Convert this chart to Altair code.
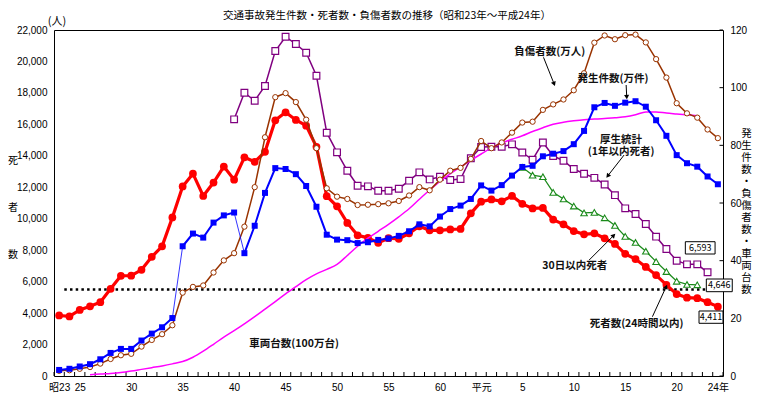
import math
import altair as alt
import pandas as pd

# ---------------- data ----------------
years = list(range(1948, 2013))
deaths_24h = [3848, 3790, 4202, 4429, 4696, 5544, 6374, 6379, 6751, 7575, 8248, 10079,
              12055, 12865, 11445, 12301, 13318, 12484, 13904, 13618, 14256, 16257,
              16765, 16278, 15918, 14574, 11432, 10792, 9734, 8945, 8783, 8466,
              8760, 8719, 9073, 9520, 9262, 9261, 9317, 9347, 10344, 11086,
              11227, 11109, 11452, 10945, 10653, 10684, 9943, 9642, 9214, 9012,
              9073, 8757, 8396, 7768, 7436, 6937, 6415, 5796, 5209, 4979,
              4948, 4691, 4411]
accidents_10k = [2.1, 2.5, 3.3, 4.1, 5.8, 8.0, 9.4, 9.4, 12.3, 14.7, 16.9, 20.1,
                 45.0, 49.4, 48.0, 53.2, 55.7, 56.7, 42.6, 52.1, 63.5, 72.1,
                 71.8, 70.0, 65.9, 58.7, 49.0, 47.3, 47.1, 46.1, 46.4, 47.2,
                 47.7, 48.6, 50.2, 52.6, 51.9, 55.3, 57.9, 59.1, 61.4, 66.1,
                 64.3, 66.2, 69.5, 72.5, 72.9, 76.2, 77.1, 78.0, 80.4, 85.0,
                 93.2, 94.7, 93.7, 94.8, 95.3, 93.4, 88.7, 83.3, 76.6, 73.8,
                 72.6, 69.2, 66.5]
injured_10k = [1.8, 2.0, 2.5, 3.1, 4.3, 5.9, 7.2, 7.7, 10.2, 12.5, 14.5, 17.6,
               28.9, 30.9, 31.4, 35.9, 40.1, 42.6, 51.8, 65.5, 82.8, 96.7,
               98.1, 95.0, 88.9, 79.0, 65.1, 62.2, 61.4, 59.3, 59.4, 59.6,
               59.9, 60.7, 62.6, 65.5, 64.4, 68.1, 71.2, 72.2, 75.3, 81.5,
               79.0, 81.0, 84.4, 87.9, 88.2, 92.3, 94.2, 95.9, 99.1, 105.0,
               115.6, 118.1, 116.8, 118.2, 118.4, 115.7, 109.9, 103.5, 94.6, 91.1,
               89.6, 85.5, 82.5]
kosei_years = list(range(1965, 2012))
deaths_1yr = [16320, 18010, 17500, 18440, 20660,
              21570, 21110, 20550, 19090, 15470, 14220, 13050, 12100, 12060, 11780,
              11780, 11910, 12420, 12950, 12500, 12670, 12460, 12520, 13850, 14560,
              14580, 14580, 14730, 14210, 13750, 14850, 13990, 13690, 13160, 12860,
              12600, 12180, 11500, 10660, 10300, 9660, 8860, 8080, 7330, 7100,
              7100, 6593]
d30_years = list(range(1993, 2011))
deaths_30d = [13269, 12768, 12670, 11674, 11254, 10805, 10372, 10403, 10060, 9575,
              8877, 8492, 7931, 7272, 6639, 6023, 5820, 5800]
vehicle_years = list(range(1951, 2011))
vehicles_1m = [0.4, 0.7, 0.9, 1.2, 1.7, 2.3, 2.9, 3.5, 4.2,
               5.0, 6.5, 8.6, 11.0, 13.5, 15.7, 18.1, 20.6, 23.2, 25.8,
               28.5, 31.0, 33.4, 35.4, 37.0, 38.7, 41.8, 45.0, 47.8, 50.2,
               52.6, 55.2, 58.0, 61.3, 64.5, 67.5, 70.1, 72.5, 74.8, 77.0,
               79.1, 80.8, 82.1, 83.3, 84.8, 86.1, 87.3, 88.0, 88.5, 88.9,
               89.1, 89.3, 89.6, 89.9, 90.6, 91.6, 91.6, 91.2, 90.9, 90.6,
               90.3]

xtick_years = [1948, 1950, 1955, 1960, 1965, 1970, 1975, 1980, 1985, 1989, 1993, 1998, 2003, 2008, 2012]
xtick_labels = ["昭23", "25", "30", "35", "40", "45", "50", "55", "60", "平元", "5", "10", "15", "20", "24年"]
left_ticks = list(range(0, 22001, 2000))
right_ticks = list(range(0, 121, 20))
guide_level = 5500

title_text = "交通事故発生件数・死者数・負傷者数の推移（昭和23年～平成24年）"
notes = [
    ("負傷者数(万人)", 1995.66, 20620),
    ("発生件数(万件)", 2001.82, 18865),
    ("30日以内死者", 1998.09, 6994),
    ("死者数(24時間以内)", 2004.1, 3306),
    ("車両台数(100万台)", 1970.83, 2015),
]
kosei_note = (["厚生統計", "(1年以内死者)"], 2002.6, 14990)
arrows = [
    (1995.06, 20263, 1996.2, 18394),
    (2003.09, 18502, 2003.16, 17548),
    (2002.89, 14051, 2001.12, 12570),
    (1999.5, 7375, 2002.09, 9073),
    (2005.64, 3770, 2007.1, 5849),
]
boxes = [
    ("6,593", 2008.84, 2011.73, 7757, 8539),
    ("4,646", 2010.88, 2013.4, 5360, 6167),
    ("4,411", 2010.17, 2012.5, 3351, 4133),
]

# ---------------- layout ----------------
W, H = 669, 346
X0, X1 = 1947.5, 2012.5
PX_YEAR = W / (X1 - X0)
PX_LEFT = H / 22000
FONT = "Noto Sans CJK JP"
NUMFONT = "Liberation Sans, Noto Sans CJK JP"

label_expr = ""
for yv, lab in zip(xtick_years, xtick_labels):
    label_expr += f"datum.value == {yv} ? '{lab}' : "
label_expr += "''"

xscale = alt.Scale(domain=[X0, X1], nice=False, zero=False)
xaxis = alt.Axis(values=xtick_years, labelExpr=label_expr, title=None, labelPadding=6,
                 labelOverlap=False, labelFlush=False)
lscale = alt.Scale(domain=[0, 22000], nice=False, zero=True)
laxis = alt.Axis(orient="left", values=left_ticks, format=",.0f", title=None, labelPadding=7)
rscale = alt.Scale(domain=[0, 120], nice=False, zero=True)
raxis = alt.Axis(orient="right", values=right_ticks, format=".0f", title=None, labelPadding=7)


def X(f):
    return alt.X(f, type="quantitative", scale=xscale, axis=xaxis)


def YL(f, axis=True):
    return alt.Y(f, type="quantitative", scale=lscale, axis=laxis if axis else None)


def YR(f):
    return alt.Y(f, type="quantitative", scale=rscale, axis=raxis)


# ---------------- left-axis series ----------------
df_red = pd.DataFrame({"year": years, "v": deaths_24h})
df_pur = pd.DataFrame({"year": kosei_years, "v": deaths_1yr})
df_grn = pd.DataFrame({"year": d30_years, "v": deaths_30d})
df_xt = pd.DataFrame({"x": [X0 + i for i in range(66)], "y": 0, "y2": 4 / PX_LEFT})
df_dot = pd.DataFrame({"x": [1948.5], "x2": [2011.6], "y": [guide_level]})

xticks = alt.Chart(df_xt).mark_rule(color="black", strokeWidth=1).encode(
    x=X("x"), y=YL("y"), y2="y2")
dotted = alt.Chart(df_dot).mark_rule(color="black", strokeWidth=2.5, strokeDash=[2.5, 3.2]).encode(
    x=X("x"), x2="x2", y=YL("y"))
pur_line = alt.Chart(df_pur).mark_line(color="#800080", strokeWidth=1.5).encode(x=X("year"), y=YL("v"))
pur_pts = alt.Chart(df_pur).mark_point(shape="square", size=45, filled=True, fill="white",
                                       stroke="#800080", strokeWidth=1.2, opacity=1).encode(x=X("year"), y=YL("v"))
grn_line = alt.Chart(df_grn).mark_line(color="#1a8a1a", strokeWidth=1.3).encode(x=X("year"), y=YL("v"))
grn_pts = alt.Chart(df_grn).mark_point(shape="triangle-up", size=42, filled=True, fill="white",
                                       stroke="#1a8a1a", strokeWidth=1.1, opacity=1).encode(x=X("year"), y=YL("v"))
red_line = alt.Chart(df_red).mark_line(color="#ff0000", strokeWidth=3.2).encode(x=X("year"), y=YL("v"))
red_pts = alt.Chart(df_red).mark_point(shape="circle", size=60, filled=True, color="#ff0000",
                                       opacity=1).encode(x=X("year"), y=YL("v"))

left_group = alt.layer(xticks, dotted, pur_line, pur_pts, grn_line, grn_pts, red_line, red_pts)

# ---------------- right-axis series ----------------
df_mag = pd.DataFrame({"year": vehicle_years, "v": vehicles_1m})
df_brn = pd.DataFrame({"year": years, "v": injured_10k})
seg = [0 if y < 1960 else (1 if y < 1966 else 2) for y in years]
df_blu = pd.DataFrame({"year": years, "v": accidents_10k, "seg": seg})
conn_rows = []
for a, b, name in [(1959, 1960, "c1"), (1965, 1966, "c2")]:
    for yy in (a, b):
        conn_rows.append({"year": yy, "v": accidents_10k[years.index(yy)], "seg": name})
df_conn = pd.DataFrame(conn_rows)
df_rt = pd.DataFrame({"y": right_ticks, "x": X1 - 3.5 / PX_YEAR, "x2": X1})

rticks = alt.Chart(df_rt).mark_rule(color="black", strokeWidth=1).encode(x=X("x"), x2="x2", y=YR("y"))
mag_line = alt.Chart(df_mag).mark_line(color="#ff00ff", strokeWidth=1.5, interpolate="monotone").encode(
    x=X("year"), y=YR("v"))
brn_line = alt.Chart(df_brn).mark_line(color="#993300", strokeWidth=1.5).encode(x=X("year"), y=YR("v"))
brn_pts = alt.Chart(df_brn).mark_point(shape="circle", size=28, filled=True, fill="white",
                                       stroke="#993300", strokeWidth=1, opacity=1).encode(x=X("year"), y=YR("v"))
blu_line = alt.Chart(df_blu).mark_line(color="#0000ff", strokeWidth=2).encode(
    x=X("year"), y=YR("v"), detail="seg:N")
blu_conn = alt.Chart(df_conn).mark_line(color="#0000ff", strokeWidth=0.8).encode(
    x=X("year"), y=YR("v"), detail="seg:N")
blu_pts = alt.Chart(df_blu).mark_point(shape="square", size=36, filled=True, color="#0000ff",
                                       opacity=1).encode(x=X("year"), y=YR("v"))

right_group = alt.layer(rticks, mag_line, brn_line, brn_pts, blu_conn, blu_line, blu_pts)

# ---------------- annotations ----------------
df_notes = pd.DataFrame(notes, columns=["t", "x", "y"])
line_rows, head_rows = [], []
for i, (xa, ya, xb, yb) in enumerate(arrows):
    dx = (xb - xa) * PX_YEAR
    dy = -(yb - ya) * PX_LEFT
    ln = math.hypot(dx, dy)
    ux, uy = dx / ln, dy / ln
    cx = xb - 3 * ux / PX_YEAR
    cy = yb + 3 * uy / PX_LEFT
    ang = math.degrees(math.atan2(dx, -dy)) % 360
    line_rows += [{"k": i, "x": xa, "y": ya}, {"k": i, "x": cx, "y": cy}]
    head_rows.append({"x": cx, "y": cy, "a": ang})
df_al = pd.DataFrame(line_rows)
df_ah = pd.DataFrame(head_rows)
df_box = pd.DataFrame(boxes, columns=["t", "x", "x2", "y", "y2"])
df_box["cx"] = (df_box["x"] + df_box["x2"]) / 2
df_box["cy"] = (df_box["y"] + df_box["y2"]) / 2

note_txt = alt.Chart(df_notes).mark_text(font=FONT, fontSize=10.5, fontWeight="bold", color="#111",
                                         align="center", baseline="middle").encode(
    x=X("x"), y=YL("y", False), text="t:N")
kosei_txt = alt.Chart(pd.DataFrame({"x": [kosei_note[1]], "y": [kosei_note[2]]})).mark_text(
    font=FONT, fontSize=10.5, fontWeight="bold", color="#111", align="center",
    baseline="middle", lineHeight=11.6).encode(
    x=X("x"), y=YL("y", False), text=alt.value(kosei_note[0]))
arr_line = alt.Chart(df_al).mark_line(color="black", strokeWidth=1).encode(
    x=X("x"), y=YL("y", False), detail="k:N")
arr_head = alt.Chart(df_ah).mark_point(shape="triangle-up", size=26, filled=True, color="black",
                                       opacity=1).encode(
    x=X("x"), y=YL("y", False), angle=alt.Angle("a:Q", scale=None))
box_rect = alt.Chart(df_box).mark_rect(fill="white", stroke="black", strokeWidth=1).encode(
    x=X("x"), x2="x2", y=YL("y", False), y2="y2")
box_txt = alt.Chart(df_box).mark_text(font=FONT, fontSize=9, color="black", align="center",
                                      baseline="middle").encode(
    x=X("cx"), y=YL("cy", False), text="t:N")

title_mark = alt.Chart(pd.DataFrame({"t": [title_text]})).mark_text(
    font=FONT, fontSize=10.5, color="black", align="center", baseline="middle").encode(
    x=alt.value(333), y=alt.value(-14.5), text="t:N")
unit_mark = alt.Chart(pd.DataFrame({"t": ["(人)"]})).mark_text(
    font=FONT, fontSize=11, color="black", align="center", baseline="middle").encode(
    x=alt.value(3), y=alt.value(-8), text="t:N")
ltitle = alt.Chart(pd.DataFrame({"t": [0]})).mark_text(
    font=FONT, fontSize=10, color="black", align="center", baseline="top", lineHeight=47).encode(
    x=alt.value(-41), y=alt.value(126), text=alt.value(["死", "者", "数"]))
rtitle = alt.Chart(pd.DataFrame({"t": [0]})).mark_text(
    font=FONT, fontSize=10.5, color="black", align="center", baseline="top", lineHeight=12).encode(
    x=alt.value(692.5), y=alt.value(99),
    text=alt.value(list("発生件数・負傷者数・車両台数")))

anno_group = alt.layer(arr_line, arr_head, note_txt, kosei_txt, box_rect, box_txt,
                       title_mark, unit_mark, ltitle, rtitle)

chart = alt.layer(left_group, right_group, anno_group).resolve_scale(y="independent").properties(
    width=W, height=H, autosize="none",
    padding={"left": 46, "top": 22, "right": 29, "bottom": 18},
).configure_view(stroke="black", strokeWidth=1).configure_axis(
    grid=False, domain=False, ticks=False, labelFont=NUMFONT, labelFontSize=10, labelColor="black"
)

chart.save("out.html", embed_options={"renderer": "svg", "actions": False})
